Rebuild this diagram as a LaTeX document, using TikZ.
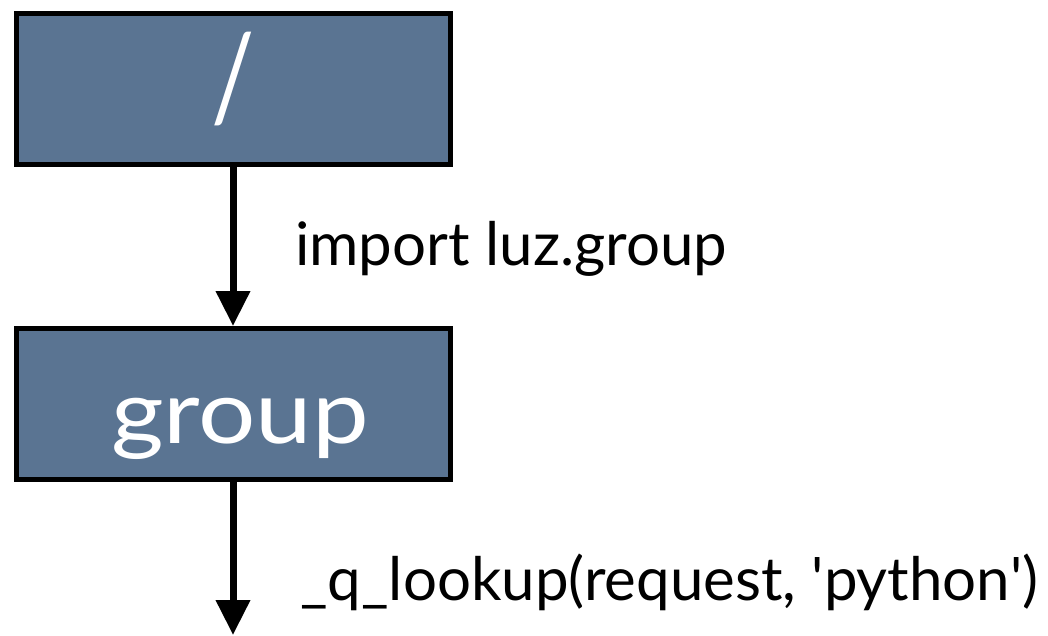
\documentclass[tikz,border=0pt]{standalone}
\usepackage{fontspec}
\setmainfont{Lato}
\usetikzlibrary{arrows.meta}
\definecolor{boxfill}{RGB}{90,116,146}
\tikzset{
  boxnode/.style={draw=black, line width=5pt, fill=boxfill, minimum width=434pt, minimum height=151pt, inner sep=0pt, text=white},
  flow/.style={line width=7pt, -{Triangle[length=35pt,width=33pt]}},
  lbl/.style={anchor=base west, inner sep=0pt, text=black},
  boxtxt/.style={anchor=base, text=white, inner sep=0pt}
}
\begin{document}
\begin{tikzpicture}[x=1pt,y=1pt]
\useasboundingbox (0,0) rectangle (1048,-635);
\node[boxnode] (root) at (233,-88.5) {};
\node[boxnode] (grp) at (233,-404) {};
\node[boxtxt] (roottxt) at (233,-120) {\fontsize{120}{130}\selectfont\scalebox{0.8}[1]{/}};
\node[boxtxt] (grptxt) at (240,-443) {\fontsize{88}{100}\selectfont\scalebox{1.15}[1]{group}};
\coordinate (end) at (235,-635);
\draw[flow] (root.south) -- (grp.north);
\draw[flow] (grp.south) -- (grp.south |- end);
\node[lbl] (l1) at (295,-265) {\fontsize{60}{70}\selectfont import luz.group};
\node[lbl] (l2) at (300,-600) {\fontsize{60}{70}\selectfont \_q\_lookup(request, \textquotesingle python\textquotesingle)};
\end{tikzpicture}
\end{document}
